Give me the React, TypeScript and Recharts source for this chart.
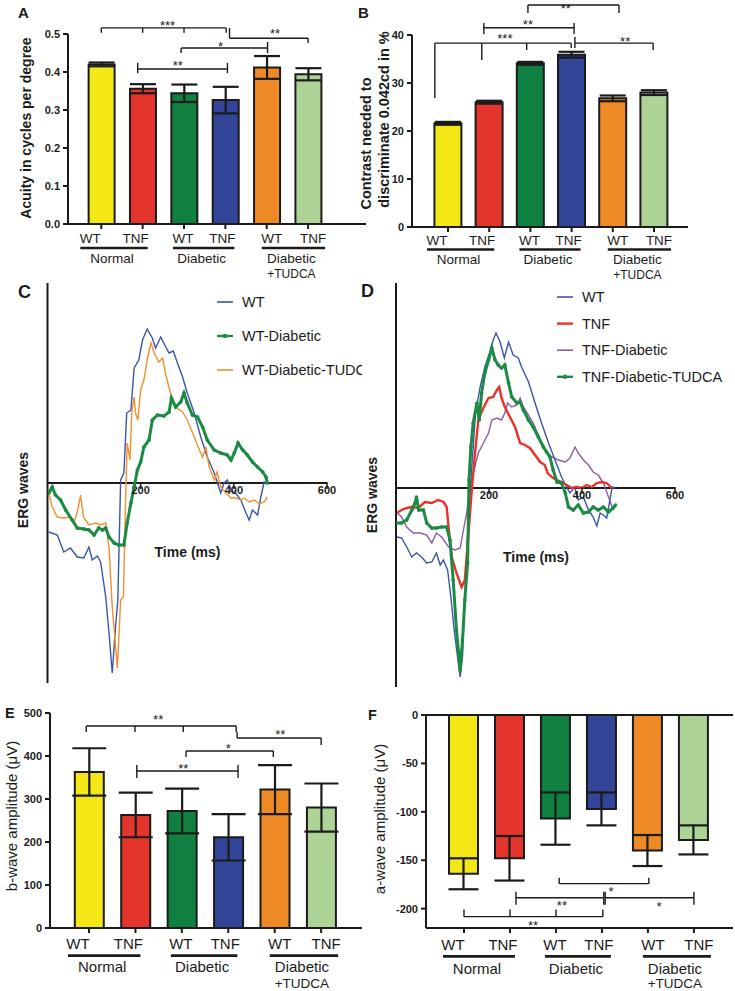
import React from 'react';
import {
  BarChart, Bar, Cell, XAxis, YAxis, ErrorBar, ReferenceLine, ReferenceDot,
  LineChart, Line, Legend,
} from 'recharts';

const FONT = '"Liberation Sans", Arial, Helvetica, sans-serif';
const INK = '#1b1b1b';

// ---------- categories ----------
const genotypes = ['WT', 'TNF', 'WT', 'TNF', 'WT', 'TNF'];
const conditionGroups = [['Normal'], ['Diabetic'], ['Diabetic', '+TUDCA']];
const barColors = ['#f3e716', '#e3352b', '#108040', '#334599', '#ee8a25', '#aed396'];
const barTicks = [0, 1, 2, 3, 4, 5];

// ---------- panel A: acuity ----------
const acuityMean = [0.42, 0.356, 0.344, 0.326, 0.412, 0.394];
const acuityErr = [0.005, 0.012, 0.023, 0.035, 0.03, 0.016];
const acuityTicks = [0, 0.1, 0.2, 0.3, 0.4, 0.5];

// ---------- panel B: contrast ----------
const contrastMean = [21.6, 26.0, 34.1, 35.9, 26.8, 28.0];
const contrastErr = [0.3, 0.3, 0.3, 0.6, 0.6, 0.5];
const contrastTicks = [0, 10, 20, 30, 40];

// ---------- panel E: b-wave ----------
const bWaveMean = [363, 263, 272, 211, 322, 280];
const bWaveErr = [55, 52, 52, 54, 57, 56];
const bWaveTicks = [0, 100, 200, 300, 400, 500];

// ---------- panel F: a-wave ----------
const aWaveMean = [-164, -148, -107, -97, -140, -129];
const aWaveErr = [16, 23, 27, 17, 16, 15];
const aWaveTicks = [0, -50, -100, -150, -200];

// ---------- significance brackets (data units: bar index, value) ----------
type Bracket = { x1: number; x2: number; y: number; drops: number[][]; label: string; lx: number; ly: number };

const acuityBrackets: Bracket[] = [
  { x1: 0, x2: 3.02, y: 0.516, drops: [[0, 0.516, 0.503], [1, 0.516, 0.503], [2, 0.516, 0.503], [3.02, 0.516, 0.503]], label: '***', lx: 1.6, ly: 0.53 },
  { x1: 3.1, x2: 5.0, y: 0.489, drops: [[3.1, 0.516, 0.489], [5.0, 0.489, 0.476]], label: '**', lx: 4.2, ly: 0.51 },
  { x1: 1.93, x2: 4.02, y: 0.463, drops: [[1.93, 0.463, 0.45], [4.02, 0.479, 0.45]], label: '*', lx: 2.88, ly: 0.476 },
  { x1: 0.88, x2: 3.05, y: 0.408, drops: [[0.88, 0.424, 0.397], [3.05, 0.424, 0.397]], label: '**', lx: 1.85, ly: 0.424 },
];

const contrastBrackets: Bracket[] = [
  { x1: 1.94, x2: 4.15, y: 46.25, drops: [[1.94, 46.25, 44.6], [4.15, 46.25, 44.6]], label: '**', lx: 2.86, ly: 46.2 },
  { x1: 0.87, x2: 3.06, y: 41.5, drops: [[0.87, 42.5, 40.2], [3.06, 42.5, 40.2]], label: '**', lx: 1.94, ly: 42.8 },
  { x1: -0.32, x2: 2.99, y: 38.3, drops: [[-0.32, 38.3, 26.9], [0.82, 38.3, 34.8], [1.91, 38.3, 36.9], [2.99, 38.3, 37.3]], label: '***', lx: 1.38, ly: 40 },
  { x1: 3.08, x2: 4.98, y: 38.3, drops: [[3.08, 39.6, 37.3], [4.98, 38.3, 36.9]], label: '**', lx: 4.3, ly: 39.2 },
];

const bWaveBrackets: Bracket[] = [
  { x1: -0.06, x2: 3.17, y: 469.8, drops: [[-0.06, 469.8, 455.8], [0.99, 469.8, 455.8], [2.03, 469.8, 455.8], [3.17, 469.8, 455.8]], label: '**', lx: 1.49, ly: 493 },
  { x1: 3.19, x2: 5.0, y: 441.9, drops: [[3.19, 455.8, 441.9], [5.0, 441.9, 425.6]], label: '**', lx: 4.12, ly: 456 },
  { x1: 2.09, x2: 3.97, y: 411.6, drops: [[2.09, 411.6, 397.7], [3.97, 411.6, 397.7]], label: '*', lx: 3.0, ly: 425 },
  { x1: 1.03, x2: 3.21, y: 365, drops: [[1.03, 379, 349], [3.21, 379, 349]], label: '**', lx: 2.03, ly: 377 },
];

const aWaveBrackets: Bracket[] = [
  { x1: 2.07, x2: 4.02, y: -174.2, drops: [[2.07, -168, -174.2], [4.02, -168, -174.2]], label: '*', lx: 3.2, ly: -179.4 },
  { x1: 1.13, x2: 3.04, y: -188.7, drops: [[1.13, -182.5, -195.9], [3.04, -182.5, -195.9]], label: '**', lx: 2.13, ly: -193.5 },
  { x1: 3.07, x2: 5.0, y: -188.7, drops: [[3.07, -182.5, -195.9], [5.0, -182.5, -195.9]], label: '*', lx: 4.24, ly: -195 },
  { x1: 0, x2: 3.02, y: -208.3, drops: [[0, -201, -208.3], [1, -201, -208.3], [2, -201, -208.3], [3.02, -201, -208.3]], label: '**', lx: 1.5, ly: -214.2 },
];

// ---------- ERG traces: [time ms, amplitude (arb.)] ----------
const ergTicks = [200, 400, 600];

const ergC_WT = [[3,-49],[21,-52],[35,-69],[49,-65],[64,-74],[78,-75],[89,-64],[96,-77],[107,-73],[114,-79],[125,-114],[132,-150],[139,-190],[146,-144],[151,-117],[157,3],[164,10],[170,70],[179,73],[186,115],[196,123],[204,143],[214,154],[225,145],[232,135],[243,146],[254,136],[261,130],[270,132],[279,120],[290,106],[300,90],[315,70],[329,46],[343,26],[358,10],[372,-10],[379,0],[386,3],[394,-7],[404,-10],[415,-17],[426,-30],[433,-37],[440,-27],[451,-32],[458,-14],[465,1],[472,0]];
const ergC_WTDiabetic = [[3,-10],[10,-4],[17,-12],[28,-17],[39,-27],[53,-37],[64,-45],[78,-46],[89,-47],[100,-52],[110,-45],[118,-47],[125,-45],[132,-54],[143,-60],[153,-62],[164,-62],[171,-40],[179,-20],[186,-4],[193,13],[200,21],[207,36],[218,43],[225,63],[236,68],[250,67],[261,71],[266,85],[275,76],[286,81],[293,90],[300,80],[311,68],[322,66],[333,56],[343,43],[358,33],[372,30],[386,28],[394,23],[401,30],[409,40],[419,33],[429,28],[440,21],[451,16],[462,11],[469,6],[472,0]];
const ergC_WTDiabeticTUDCA = [[3,-10],[10,-24],[21,-34],[35,-35],[46,-34],[57,-40],[65,-27],[71,-12],[77,-34],[89,-42],[103,-40],[114,-42],[125,-40],[132,-64],[139,-124],[150,-185],[157,-117],[163,-114],[168,-10],[171,40],[177,23],[181,71],[186,86],[189,70],[194,63],[200,93],[207,103],[214,123],[222,140],[229,130],[239,121],[247,125],[254,108],[265,88],[275,76],[290,71],[300,63],[315,46],[326,33],[333,26],[340,36],[347,16],[358,3],[364,11],[372,-4],[383,-10],[394,-15],[404,-15],[415,-17],[422,-15],[433,-19],[444,-17],[455,-21],[465,-19],[472,-14]];

const ergD_WT = [[1,-49],[12,-50],[23,-59],[34,-69],[44,-65],[55,-69],[66,-75],[77,-74],[87,-65],[95,-77],[102,-72],[111,-82],[118,-109],[125,-142],[134,-175],[138,-189],[143,-169],[148,-109],[156,-25],[163,21],[171,75],[181,101],[191,121],[202,136],[209,148],[215,155],[224,146],[233,130],[242,146],[252,133],[263,130],[270,121],[285,106],[299,85],[313,65],[328,45],[342,28],[356,11],[367,1],[374,-5],[384,1],[392,-12],[403,-9],[414,-22],[424,-29],[432,-38],[439,-25],[446,-27],[453,-30],[460,-12],[465,1],[471,0]];
const ergD_TNF = [[1,-25],[12,-22],[23,-20],[34,-19],[48,-20],[62,-14],[77,-15],[91,-12],[102,-14],[109,-19],[113,-39],[120,-69],[130,-85],[141,-99],[148,-92],[156,-45],[163,-2],[170,35],[177,68],[184,76],[191,83],[199,90],[209,91],[217,98],[222,101],[227,90],[234,81],[245,71],[256,61],[267,45],[277,43],[288,40],[299,33],[310,26],[320,23],[326,15],[335,11],[346,8],[356,6],[367,3],[378,0],[389,1],[399,0],[410,3],[421,1],[432,5],[442,6],[453,5],[464,0]];
const ergD_TNFDiabetic = [[1,-24],[12,-29],[23,-39],[37,-45],[52,-45],[66,-47],[77,-55],[87,-45],[98,-49],[113,-59],[127,-62],[138,-60],[145,-42],[152,-25],[159,1],[166,15],[177,35],[188,45],[199,55],[206,68],[217,70],[227,68],[234,75],[240,85],[249,81],[260,83],[267,90],[274,81],[285,73],[295,65],[306,53],[320,38],[335,31],[349,28],[364,26],[374,30],[385,41],[392,35],[403,28],[414,23],[424,16],[435,13],[446,5],[457,-9],[467,-22]];
const ergD_TNFDiabeticTUDCA = [[1,-35],[12,-35],[23,-32],[34,-22],[41,-15],[44,-9],[49,-22],[59,-22],[66,-35],[77,-40],[87,-40],[98,-39],[109,-39],[116,-52],[123,-92],[130,-142],[138,-182],[143,-152],[148,-112],[154,-75],[157,8],[161,41],[166,65],[174,85],[179,68],[184,95],[191,115],[199,128],[206,140],[213,128],[220,123],[227,120],[234,123],[242,105],[249,91],[260,85],[267,86],[274,78],[285,68],[295,61],[306,51],[317,41],[324,36],[331,31],[338,18],[346,6],[356,5],[364,-5],[371,-19],[381,-22],[392,-17],[403,-25],[414,-24],[424,-19],[435,-22],[446,-19],[457,-24],[467,-20],[472,-17]];

const toPoints = (arr: number[][]) => arr.map(([t, v]) => ({ t, v }));

// ---------- series styles ----------
const seriesStyle: Record<string, { color: string; width: number; dots: boolean }> = {
  'WT': { color: '#3a55a9', width: 1.4, dots: false },
  'WT-Diabetic': { color: '#1c8a43', width: 3, dots: true },
  'WT-Diabetic-TUDCA': { color: '#f0902e', width: 1.4, dots: false },
  'TNF': { color: '#e8322a', width: 2.4, dots: false },
  'TNF-Diabetic': { color: '#8c5ca8', width: 1.4, dots: false },
  'TNF-Diabetic-TUDCA': { color: '#1c8a43', width: 3, dots: true },
};

// ---------- shared bar-panel pieces ----------
const labelShift = [-11, -7, -1, -3, 5, 5];

type LabelCfg = { fs: number; wt: number; ul: number; g1: number; g2: number };

function makeGroupTick(cfg: LabelCfg, stepPx: number) {
  return (props: any) => {
    const { x, y, payload } = props;
    const i = Math.round(payload.value);
    const axisY = y - 5;
    const lx = x + labelShift[i];
    const textStyle = { fontFamily: FONT, fontSize: cfg.fs, fill: INK } as any;
    const parts: any[] = [
      <text key="g" x={lx} y={axisY + cfg.wt} textAnchor="middle" style={textStyle}>{genotypes[i]}</text>,
    ];
    if (i % 2 === 0) {
      const nx = x + stepPx + labelShift[i + 1];
      const x1 = lx - 10;
      const x2 = nx + 12;
      const cx = (x1 + x2) / 2 - 2;
      parts.push(<line key="u" x1={x1} x2={x2} y1={axisY + cfg.ul} y2={axisY + cfg.ul} stroke={INK} strokeWidth={2.6} />);
      const names = conditionGroups[i / 2];
      names.forEach((n, k) => {
        parts.push(
          <text key={'n' + k} x={cx} y={axisY + (k === 0 ? cfg.g1 : cfg.g2)} textAnchor="middle"
            style={{ ...textStyle, fontSize: k === 0 ? cfg.fs : cfg.fs - 1.5 }}>{n}</text>
        );
      });
    }
    return <g>{parts}</g>;
  };
}

function bracketElements(brackets: Bracket[], key: string) {
  const out: any[] = [];
  brackets.forEach((b, bi) => {
    out.push(
      <ReferenceLine key={`${key}h${bi}`} segment={[{ x: b.x1, y: b.y }, { x: b.x2, y: b.y }]}
        stroke={INK} strokeWidth={1.4} ifOverflow="visible" />
    );
    b.drops.forEach((d, di) => {
      out.push(
        <ReferenceLine key={`${key}d${bi}_${di}`} segment={[{ x: d[0], y: d[1] }, { x: d[0], y: d[2] }]}
          stroke={INK} strokeWidth={1.4} ifOverflow="visible" />
      );
    });
    out.push(
      <ReferenceDot key={`${key}l${bi}`} x={b.lx} y={b.ly} r={1} ifOverflow="visible"
        shape={(p: any) => (
          <text x={p.cx} y={p.cy + 7.5} textAnchor="middle"
            style={{ fontFamily: FONT, fontSize: 13, fill: INK }}>{b.label}</text>
        )} />
    );
  });
  return out;
}

type BarPanelProps = {
  left: number; top: number; width: number; height: number;
  margin: { top: number; right: number; bottom: number; left: number };
  yW: number; xH: number;
  means: number[]; errs: number[];
  xDomain: [number, number]; yDomain: [number, number]; yTicks: number[];
  yFmt?: (v: number) => string;
  barSize: number; capW: number;
  brackets: Bracket[]; cfg: LabelCfg; zeroLine?: boolean; name: string;
};

function BarPanel(p: BarPanelProps) {
  const rows = genotypes.map((g, i) => ({ i, v: p.means[i], e: p.errs[i], g }));
  const plotW = p.width - p.margin.left - p.margin.right - p.yW;
  const stepPx = plotW / (p.xDomain[1] - p.xDomain[0]);
  const axisStyle = { stroke: INK, strokeWidth: 2 };
  return (
    <div style={{ position: 'absolute', left: p.left, top: p.top }}>
      <BarChart width={p.width} height={p.height} data={rows} margin={p.margin}>
        <XAxis type="number" dataKey="i" domain={p.xDomain} ticks={barTicks} interval={0}
          allowDataOverflow tick={makeGroupTick(p.cfg, stepPx)} tickSize={5} tickMargin={0}
          height={p.xH} axisLine={axisStyle} tickLine={axisStyle} />
        <YAxis type="number" domain={p.yDomain} ticks={p.yTicks} interval={0} allowDataOverflow
          width={p.yW} tickSize={5} tickMargin={3} tickFormatter={p.yFmt}
          tick={{ fill: INK, fontSize: 11, fontWeight: 700, fontFamily: FONT }}
          axisLine={axisStyle} tickLine={axisStyle} />
        {p.zeroLine ? <ReferenceLine y={0} stroke={INK} strokeWidth={2} /> : null}
        <Bar dataKey="v" barSize={p.barSize} stroke={INK} strokeWidth={2} isAnimationActive={false}>
          {rows.map((r, k) => <Cell key={k} fill={barColors[k]} />)}
          <ErrorBar dataKey="e" width={p.capW} strokeWidth={2.2} stroke={INK} direction="y" />
        </Bar>
        {bracketElements(p.brackets, p.name)}
      </BarChart>
    </div>
  );
}

// ---------- ERG panels ----------
function ergTickShape(label: number) {
  return (p: any) => (
    <g>
      <line x1={p.cx} x2={p.cx} y1={p.cy - 1} y2={p.cy + 6} stroke={INK} strokeWidth={1.5} />
      <text x={p.cx} y={p.cy + 10.5} textAnchor="middle"
        style={{ fontFamily: FONT, fontSize: 11, fontWeight: 700, fill: INK }}>{label}</text>
    </g>
  );
}

function makeLegend(order: string[], rowGap: number, w: number) {
  return () => (
    <svg width={w} height={12 + rowGap * order.length} style={{ display: 'block', overflow: 'hidden' }}>
      {order.map((n, k) => {
        const s = seriesStyle[n];
        const cy = 12 + rowGap * k;
        return (
          <g key={n}>
            <line x1={2} x2={18} y1={cy} y2={cy} stroke={s.color} strokeWidth={s.dots ? 2.4 : Math.max(1.6, s.width)} />
            {s.dots ? <circle cx={10} cy={cy} r={2.2} fill={s.color} /> : null}
            <text x={27} y={cy + 5} style={{ fontFamily: FONT, fontSize: 14.5, fill: INK }}>{n}</text>
          </g>
        );
      })}
    </svg>
  );
}

type ErgSeries = { name: string; pts: number[][] };

function ErgPanel(p: {
  left: number; top: number; width: number; height: number;
  margin: { top: number; right: number; bottom: number; left: number };
  yDomain: [number, number]; series: ErgSeries[]; legendOrder: string[];
  legendPos: { left: number; top: number; width: number }; rowGap: number;
}) {
  return (
    <div style={{ position: 'absolute', left: p.left, top: p.top }}>
      <LineChart width={p.width} height={p.height} margin={p.margin}>
        <XAxis type="number" dataKey="t" domain={[0, 600]} hide allowDataOverflow />
        <YAxis type="number" domain={p.yDomain} width={10} tick={false} tickLine={false}
          allowDataOverflow axisLine={{ stroke: INK, strokeWidth: 2 }} />
        <ReferenceLine y={0} stroke={INK} strokeWidth={2} />
        {ergTicks.map((t) => (
          <ReferenceDot key={t} x={t} y={0} r={1} ifOverflow="visible" shape={ergTickShape(t)} />
        ))}
        {p.series.map((s) => {
          const st = seriesStyle[s.name];
          return (
            <Line key={s.name} data={toPoints(s.pts)} dataKey="v" name={s.name} type="linear"
              stroke={st.color} strokeWidth={st.width} isAnimationActive={false}
              dot={st.dots ? { r: 1.6, fill: st.color, stroke: st.color, strokeWidth: 0.5 } : false}
              activeDot={false} />
          );
        })}
        <Legend layout="vertical" align="center" verticalAlign="middle"
          wrapperStyle={{ position: 'absolute', left: p.legendPos.left, top: p.legendPos.top, width: p.legendPos.width, overflow: 'hidden' }}
          content={makeLegend(p.legendOrder, p.rowGap, p.legendPos.width)} />
      </LineChart>
    </div>
  );
}

// ---------- overlay texts ----------
function VText({ x, y, children, fs, bold }: any) {
  return (
    <text transform={`translate(${x},${y}) rotate(-90)`} textAnchor="middle"
      style={{ fontFamily: FONT, fontSize: fs, fontWeight: bold ? 700 : 400, fill: INK }}>{children}</text>
  );
}

function Letter({ x, y, fs, children }: any) {
  return <text x={x} y={y} style={{ fontFamily: FONT, fontSize: fs, fontWeight: 700, fill: INK }}>{children}</text>;
}

export default function App() {
  return (
    <div style={{ position: 'absolute', left: 0, top: 0, width: 735, height: 991, background: '#fff', overflow: 'hidden' }}>
      <BarPanel name="A" left={0} top={0} width={370} height={292}
        margin={{ top: 34, right: 4, bottom: 12, left: 18 }} yW={50} xH={56}
        means={acuityMean} errs={acuityErr} xDomain={[-0.805, 6.4]} yDomain={[0, 0.5]}
        yTicks={acuityTicks} yFmt={(v) => v.toFixed(1)} barSize={26} capW={13}
        brackets={acuityBrackets} cfg={{ fs: 13.5, wt: 19, ul: 24, g1: 39, g2: 53.5 }} />
      <BarPanel name="B" left={365} top={0} width={370} height={292}
        margin={{ top: 35, right: 47, bottom: 12, left: 7 }} yW={40} xH={53}
        means={contrastMean} errs={contrastErr} xDomain={[-0.874, 5.825]} yDomain={[0, 40]}
        yTicks={contrastTicks} barSize={27} capW={13}
        brackets={contrastBrackets} cfg={{ fs: 13.5, wt: 18, ul: 22.5, g1: 37, g2: 51.5 }} />
      <BarPanel name="E" left={0} top={690} width={370} height={301}
        margin={{ top: 23, right: 8, bottom: 0, left: 5 }} yW={45} xH={63}
        means={bWaveMean} errs={bWaveErr} xDomain={[-0.84, 5.88]} yDomain={[0, 500]}
        yTicks={bWaveTicks} barSize={29} capW={17}
        brackets={bWaveBrackets} cfg={{ fs: 15, wt: 21, ul: 27.6, g1: 44, g2: 59.5 }} />
      <BarPanel name="F" left={365} top={690} width={370} height={301}
        margin={{ top: 25, right: 2, bottom: 0, left: 11 }} yW={50} xH={63}
        means={aWaveMean} errs={aWaveErr} xDomain={[-0.826, 5.85]} yDomain={[-220, 0]}
        yTicks={aWaveTicks} barSize={29} capW={15} zeroLine
        brackets={aWaveBrackets} cfg={{ fs: 15, wt: 22, ul: 28.4, g1: 45.5, g2: 60 }} />

      <ErgPanel left={0} top={280} width={365} height={410}
        margin={{ top: 3, right: 38, bottom: 7, left: 37.5 }} yDomain={[-200, 200]}
        series={[
          { name: 'WT', pts: ergC_WT },
          { name: 'WT-Diabetic-TUDCA', pts: ergC_WTDiabeticTUDCA },
          { name: 'WT-Diabetic', pts: ergC_WTDiabetic },
        ]}
        legendOrder={['WT', 'WT-Diabetic', 'WT-Diabetic-TUDCA']}
        legendPos={{ left: 215, top: 10, width: 147 }} rowGap={34} />
      <ErgPanel left={365} top={280} width={370} height={410}
        margin={{ top: 3, right: 60, bottom: 3, left: 21 }} yDomain={[-199, 205]}
        series={[
          { name: 'TNF-Diabetic', pts: ergD_TNFDiabetic },
          { name: 'WT', pts: ergD_WT },
          { name: 'TNF', pts: ergD_TNF },
          { name: 'TNF-Diabetic-TUDCA', pts: ergD_TNFDiabeticTUDCA },
        ]}
        legendOrder={['WT', 'TNF', 'TNF-Diabetic', 'TNF-Diabetic-TUDCA']}
        legendPos={{ left: 190, top: 5, width: 180 }} rowGap={26.6} />

      <svg width={735} height={991} style={{ position: 'absolute', left: 0, top: 0, pointerEvents: 'none' }}>
        <Letter x={18} y={18} fs={15}>A</Letter>
        <Letter x={358} y={18} fs={15}>B</Letter>
        <Letter x={18} y={298} fs={18}>C</Letter>
        <Letter x={361} y={297} fs={18}>D</Letter>
        <Letter x={5} y={718} fs={14.5}>E</Letter>
        <Letter x={368} y={720} fs={14.5}>F</Letter>

        <VText x={31} y={128} fs={14} bold>Acuity in cycles per degree</VText>
        <VText x={371} y={143.5} fs={14.5} bold>Contrast needed to</VText>
        <VText x={389} y={119.5} fs={14.5} bold>discriminate 0.042cd in %</VText>
        <VText x={28} y={490} fs={14} bold>ERG waves</VText>
        <VText x={376.5} y={495} fs={14} bold>ERG waves</VText>
        <VText x={17} y={816} fs={15}>b-wave amplitude (μV)</VText>
        <VText x={385} y={819} fs={15}>a-wave amplitude (μV)</VText>

        <text x={187.5} y={557} textAnchor="middle" style={{ fontFamily: FONT, fontSize: 14, fontWeight: 700, fill: INK }}>Time (ms)</text>
        <text x={536} y={562} textAnchor="middle" style={{ fontFamily: FONT, fontSize: 14, fontWeight: 700, fill: INK }}>Time (ms)</text>
      </svg>
    </div>
  );
}
